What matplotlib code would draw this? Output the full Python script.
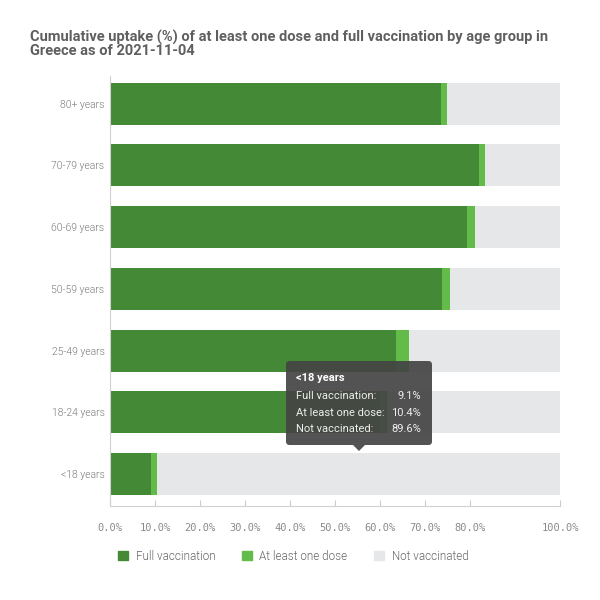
import matplotlib
matplotlib.use("Agg")
import matplotlib.pyplot as plt
from matplotlib.patches import FancyBboxPatch, Polygon, Patch

categories = ["<18 years", "18-24 years", "25-49 years", "50-59 years",
              "60-69 years", "70-79 years", "80+ years"]
full_vacc = [9.1, 59.9, 63.6, 73.8, 79.3, 82.1, 73.6]
at_least_one = [10.4, 61.6, 66.4, 75.6, 81.1, 83.3, 74.9]
tick_values = [0, 10, 20, 30, 40, 50, 60, 70, 80, 100]
tick_labels = ["0.0%", "10.0%", "20.0%", "30.0%", "40.0%", "50.0%",
               "60.0%", "70.0%", "80.0%", "100.0%"]

c_full = "#448a36"
c_one = "#63bb4a"
c_not = "#e6e7e9"
txt = "#7a7a7a"

plt.rcParams['font.family'] = ['Roboto', 'DejaVu Sans']

fig = plt.figure(figsize=(6, 6), dpi=100)
ax = fig.add_axes([110/600, 1-506/600, 450/600, (506-76)/600])

y = list(range(len(categories)))
extra = [a - f for a, f in zip(at_least_one, full_vacc)]
notv = [100 - a for a in at_least_one]
h = 0.68
ax.barh(y, full_vacc, height=h, color=c_full, zorder=2)
ax.barh(y, extra, left=full_vacc, height=h, color=c_one, zorder=2)
ax.barh(y, notv, left=at_least_one, height=h, color=c_not, zorder=2)

ax.set_xlim(0, 100)
ax.set_ylim(-0.52, 6.45)
ax.set_yticks(y)
ax.set_yticklabels(categories, fontsize=7.5, color=txt, fontweight=300)
ax.set_xticks(tick_values)
ax.set_xticklabels(tick_labels, fontsize=7.5, color="#8a8a8a", family=['DejaVu Sans Mono'])
ax.tick_params(axis='y', length=0, pad=4)
ax.tick_params(axis='x', direction='in', length=4.5, color="#cccccc", pad=12)
for s in ["top", "right"]:
    ax.spines[s].set_visible(False)
ax.spines["left"].set_color("#d0d0d0")
ax.spines["bottom"].set_color("#d0d0d0")
ax.spines["left"].set_linewidth(0.8)
ax.spines["bottom"].set_linewidth(0.8)

fig.text(30/600, 1-44/600, "Cumulative uptake (%) of at least one dose and full vaccination by age group in\nGreece as of 2021-11-04",
         fontsize=10.5, fontweight='bold', color="#5f5f5f", va='center', ha='left', linespacing=0.95)

# Legend
handles = [Patch(color=c_full), Patch(color=c_one), Patch(color=c_not)]
labels = ["Full vaccination", "At least one dose", "Not vaccinated"]
fig.legend(handles, labels, loc='center left', bbox_to_anchor=(118/600, 1-556/600),
           ncol=3, frameon=False, labelcolor="#666666", borderpad=0,
           borderaxespad=0, handlelength=0.85, handleheight=0.85, columnspacing=2.3,
           handletextpad=0.65, prop={'weight': 300, 'size': 8.4})

# Tooltip
x0, x1, y0, y1 = 286/600, 432/600, 1-445/600, 1-361/600
box = FancyBboxPatch((x0, y0), x1-x0, y1-y0, boxstyle="round,pad=0,rounding_size=0.006",
                     transform=fig.transFigure, facecolor="#444444", alpha=0.92,
                     edgecolor="none", zorder=10)
fig.patches.append(box)
tri = Polygon([[353/600, y0], [365/600, y0], [359/600, 1-451/600]], closed=True,
              transform=fig.transFigure, facecolor="#444444", alpha=0.92,
              edgecolor="none", zorder=10)
fig.patches.append(tri)
fig.text(296/600, 1-378/600, categories[0], color="white", fontsize=8, fontweight='bold',
         va='center', ha='left', zorder=11)
rows = [("Full vaccination:", full_vacc[0]), ("At least one dose:", at_least_one[0]),
        ("Not vaccinated:", 100 - at_least_one[0])]
for i, (lab, v) in enumerate(rows):
    yy = 1 - (396 + i*16.5)/600
    fig.text(296/600, yy, lab, color="#eeeeee", fontsize=8, va='center', ha='left', zorder=11)
    fig.text(421/600, yy, f"{v:.1f}%", color="#eeeeee", fontsize=8, va='center', ha='right', zorder=11)

fig.savefig("out.png", dpi=100, facecolor="white")
